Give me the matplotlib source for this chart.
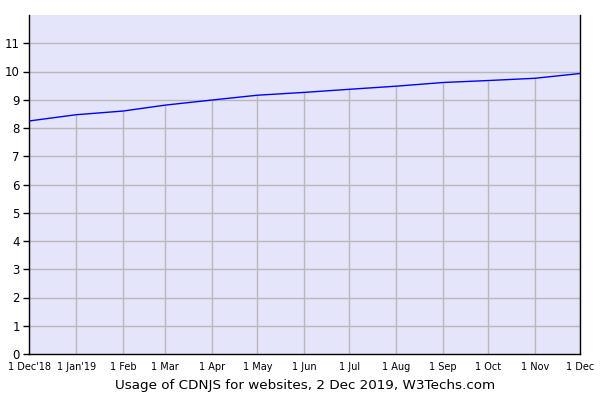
import numpy as np
import pandas as pd
import matplotlib
matplotlib.use('Agg')
import matplotlib.pyplot as plt

# Monthly usage values (percent of websites)
dates = pd.to_datetime(['2018-12-01', '2019-01-01', '2019-02-01', '2019-03-01',
                        '2019-04-01', '2019-05-01', '2019-06-01', '2019-07-01',
                        '2019-08-01', '2019-09-01', '2019-10-01', '2019-11-01',
                        '2019-12-01'])
usage = [8.25, 8.47, 8.60, 8.81, 8.99, 9.16, 9.26, 9.37, 9.48, 9.61, 9.68, 9.76, 9.93]
tick_labels = ["1 Dec'18", "1 Jan'19", '1 Feb', '1 Mar', '1 Apr', '1 May', '1 Jun',
               '1 Jul', '1 Aug', '1 Sep', '1 Oct', '1 Nov', '1 Dec']
y_ticks = list(range(0, 12))
caption = 'Usage of CDNJS for websites, 2 Dec 2019, W3Techs.com'

fig = plt.figure(figsize=(6, 4), dpi=100)
ax = fig.add_axes([0.049, 0.115, 0.918, 0.8475])
ax.set_facecolor('#e4e4fa')

# horizontal grid across the whole plot
for y in y_ticks[1:]:
    ax.axhline(y, color='#b8b8b8', lw=1, zorder=1)

# vertical grid only below the line
ax.vlines(dates, 0, usage, color='#b8b8b8', lw=1, zorder=1)

ax.plot(dates, usage, color='#0000ff', lw=1, zorder=3)

ax.set_xlim(dates[0], dates[-1])
ax.set_ylim(0, 12)
ax.set_yticks(y_ticks)
ax.set_yticklabels([str(v) for v in y_ticks], fontsize=8.5)
ax.set_xticks(dates)
ax.set_xticklabels(tick_labels, fontsize=7)
ax.tick_params(axis='x', length=0, pad=6)
ax.tick_params(axis='y', length=4, width=1, pad=3)

ax.spines['top'].set_visible(False)
for s in ['left', 'bottom', 'right']:
    ax.spines[s].set_color('black')
    ax.spines[s].set_linewidth(1)

ax.set_xlabel(caption, fontsize=9.7, labelpad=5)

fig.savefig('out.png', dpi=100)
